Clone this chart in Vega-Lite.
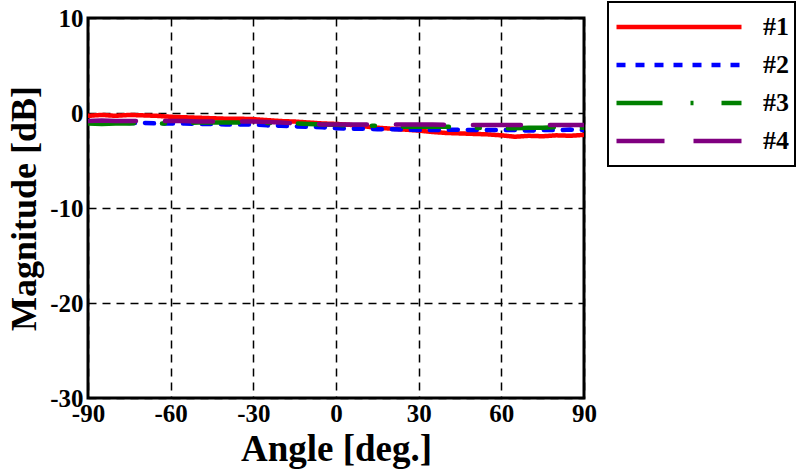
{
  "$schema": "https://vega.github.io/schema/vega-lite/v6.json",
  "width": 496,
  "height": 380,
  "autosize": "none",
  "padding": {"left": 88, "top": 18, "right": 213, "bottom": 74},
  "background": "white",
  "config": {
    "view": {"stroke": "black", "strokeWidth": 3},
    "font": "Liberation Serif",
    "legend": {"strokeWidth": 2},
    "locale": {"number": {"decimal": ".", "thousands": ",", "grouping": [3], "currency": ["$", ""], "minus": "-"}}
  },
  "data": {
    "values": [
      {"a": -90, "s": "#1", "v": -0.3}, {"a": -85, "s": "#1", "v": -0.2}, {"a": -80, "s": "#1", "v": -0.3}, {"a": -75, "s": "#1", "v": -0.2},
      {"a": -70, "s": "#1", "v": -0.25}, {"a": -65, "s": "#1", "v": -0.3}, {"a": -60, "s": "#1", "v": -0.4}, {"a": -55, "s": "#1", "v": -0.45},
      {"a": -50, "s": "#1", "v": -0.5}, {"a": -45, "s": "#1", "v": -0.55}, {"a": -40, "s": "#1", "v": -0.6}, {"a": -35, "s": "#1", "v": -0.6},
      {"a": -30, "s": "#1", "v": -0.65}, {"a": -25, "s": "#1", "v": -0.75}, {"a": -20, "s": "#1", "v": -0.85}, {"a": -15, "s": "#1", "v": -0.9},
      {"a": -10, "s": "#1", "v": -1.0}, {"a": -5, "s": "#1", "v": -1.1}, {"a": 0, "s": "#1", "v": -1.15}, {"a": 5, "s": "#1", "v": -1.25},
      {"a": 10, "s": "#1", "v": -1.4}, {"a": 15, "s": "#1", "v": -1.55}, {"a": 20, "s": "#1", "v": -1.65}, {"a": 25, "s": "#1", "v": -1.75},
      {"a": 30, "s": "#1", "v": -1.85}, {"a": 35, "s": "#1", "v": -2.0}, {"a": 40, "s": "#1", "v": -2.1}, {"a": 45, "s": "#1", "v": -2.15},
      {"a": 50, "s": "#1", "v": -2.2}, {"a": 55, "s": "#1", "v": -2.25}, {"a": 60, "s": "#1", "v": -2.35}, {"a": 65, "s": "#1", "v": -2.5},
      {"a": 70, "s": "#1", "v": -2.4}, {"a": 75, "s": "#1", "v": -2.45}, {"a": 80, "s": "#1", "v": -2.35}, {"a": 85, "s": "#1", "v": -2.4},
      {"a": 90, "s": "#1", "v": -2.3},
      {"a": -90, "s": "#2", "v": -1.0}, {"a": -85, "s": "#2", "v": -0.95}, {"a": -80, "s": "#2", "v": -1.0}, {"a": -75, "s": "#2", "v": -1.05},
      {"a": -70, "s": "#2", "v": -1.05}, {"a": -65, "s": "#2", "v": -1.1}, {"a": -60, "s": "#2", "v": -1.1}, {"a": -55, "s": "#2", "v": -1.1},
      {"a": -50, "s": "#2", "v": -1.15}, {"a": -45, "s": "#2", "v": -1.15}, {"a": -40, "s": "#2", "v": -1.2}, {"a": -35, "s": "#2", "v": -1.2},
      {"a": -30, "s": "#2", "v": -1.2}, {"a": -25, "s": "#2", "v": -1.3}, {"a": -20, "s": "#2", "v": -1.35}, {"a": -15, "s": "#2", "v": -1.4},
      {"a": -10, "s": "#2", "v": -1.45}, {"a": -5, "s": "#2", "v": -1.5}, {"a": 0, "s": "#2", "v": -1.6}, {"a": 5, "s": "#2", "v": -1.65},
      {"a": 10, "s": "#2", "v": -1.65}, {"a": 15, "s": "#2", "v": -1.7}, {"a": 20, "s": "#2", "v": -1.7}, {"a": 25, "s": "#2", "v": -1.75},
      {"a": 30, "s": "#2", "v": -1.8}, {"a": 35, "s": "#2", "v": -1.8}, {"a": 40, "s": "#2", "v": -1.75}, {"a": 45, "s": "#2", "v": -1.75},
      {"a": 50, "s": "#2", "v": -1.8}, {"a": 55, "s": "#2", "v": -1.8}, {"a": 60, "s": "#2", "v": -1.8}, {"a": 65, "s": "#2", "v": -1.8},
      {"a": 70, "s": "#2", "v": -1.85}, {"a": 75, "s": "#2", "v": -1.8}, {"a": 80, "s": "#2", "v": -1.8}, {"a": 85, "s": "#2", "v": -1.75},
      {"a": 90, "s": "#2", "v": -1.8},
      {"a": -90, "s": "#3", "v": -1.1}, {"a": -85, "s": "#3", "v": -1.15}, {"a": -80, "s": "#3", "v": -1.1}, {"a": -75, "s": "#3", "v": -1.1},
      {"a": -70, "s": "#3", "v": -1.05}, {"a": -65, "s": "#3", "v": -1.1}, {"a": -60, "s": "#3", "v": -1.1}, {"a": -55, "s": "#3", "v": -1.05},
      {"a": -50, "s": "#3", "v": -1.0}, {"a": -45, "s": "#3", "v": -1.0}, {"a": -40, "s": "#3", "v": -1.0}, {"a": -35, "s": "#3", "v": -1.0},
      {"a": -30, "s": "#3", "v": -1.0}, {"a": -25, "s": "#3", "v": -1.05}, {"a": -20, "s": "#3", "v": -1.1}, {"a": -15, "s": "#3", "v": -1.1},
      {"a": -10, "s": "#3", "v": -1.15}, {"a": -5, "s": "#3", "v": -1.2}, {"a": 0, "s": "#3", "v": -1.25}, {"a": 5, "s": "#3", "v": -1.3},
      {"a": 10, "s": "#3", "v": -1.35}, {"a": 15, "s": "#3", "v": -1.35}, {"a": 20, "s": "#3", "v": -1.4}, {"a": 25, "s": "#3", "v": -1.45},
      {"a": 30, "s": "#3", "v": -1.45}, {"a": 35, "s": "#3", "v": -1.45}, {"a": 40, "s": "#3", "v": -1.45}, {"a": 45, "s": "#3", "v": -1.5},
      {"a": 50, "s": "#3", "v": -1.55}, {"a": 55, "s": "#3", "v": -1.6}, {"a": 60, "s": "#3", "v": -1.6}, {"a": 65, "s": "#3", "v": -1.6},
      {"a": 70, "s": "#3", "v": -1.55}, {"a": 75, "s": "#3", "v": -1.55}, {"a": 80, "s": "#3", "v": -1.5}, {"a": 85, "s": "#3", "v": -1.55},
      {"a": 90, "s": "#3", "v": -1.55},
      {"a": -90, "s": "#4", "v": -0.85}, {"a": -85, "s": "#4", "v": -0.8}, {"a": -80, "s": "#4", "v": -0.85}, {"a": -75, "s": "#4", "v": -0.85},
      {"a": -70, "s": "#4", "v": -0.85}, {"a": -65, "s": "#4", "v": -0.85}, {"a": -60, "s": "#4", "v": -0.85}, {"a": -55, "s": "#4", "v": -0.85},
      {"a": -50, "s": "#4", "v": -0.9}, {"a": -45, "s": "#4", "v": -0.9}, {"a": -40, "s": "#4", "v": -0.9}, {"a": -35, "s": "#4", "v": -0.9},
      {"a": -30, "s": "#4", "v": -0.9}, {"a": -25, "s": "#4", "v": -0.95}, {"a": -20, "s": "#4", "v": -1.0}, {"a": -15, "s": "#4", "v": -1.1},
      {"a": -10, "s": "#4", "v": -1.15}, {"a": -5, "s": "#4", "v": -1.2}, {"a": 0, "s": "#4", "v": -1.2}, {"a": 5, "s": "#4", "v": -1.2},
      {"a": 10, "s": "#4", "v": -1.2}, {"a": 15, "s": "#4", "v": -1.2}, {"a": 20, "s": "#4", "v": -1.2}, {"a": 25, "s": "#4", "v": -1.2},
      {"a": 30, "s": "#4", "v": -1.2}, {"a": 35, "s": "#4", "v": -1.2}, {"a": 40, "s": "#4", "v": -1.25}, {"a": 45, "s": "#4", "v": -1.25},
      {"a": 50, "s": "#4", "v": -1.25}, {"a": 55, "s": "#4", "v": -1.25}, {"a": 60, "s": "#4", "v": -1.25}, {"a": 65, "s": "#4", "v": -1.25},
      {"a": 70, "s": "#4", "v": -1.25}, {"a": 75, "s": "#4", "v": -1.25}, {"a": 80, "s": "#4", "v": -1.25}, {"a": 85, "s": "#4", "v": -1.25},
      {"a": 90, "s": "#4", "v": -1.25}
    ]
  },
  "mark": {"type": "line", "strokeWidth": 4.5, "strokeCap": "round", "clip": true},
  "encoding": {
    "x": {
      "field": "a", "type": "quantitative",
      "scale": {"domain": [-90, 90], "nice": false, "zero": false},
      "axis": {
        "title": "Angle [deg.]",
        "values": [-90, -60, -30, 0, 30, 60, 90],
        "domain": false, "ticks": false,
        "grid": true, "gridColor": "black", "gridDash": [8, 6], "gridWidth": 1.5, "gridOpacity": 1,
        "labelFont": "Liberation Serif", "labelFontWeight": "bold", "labelFontSize": 25, "labelColor": "black",
        "labelPadding": 3, "labelFlush": false,
        "titleFont": "Liberation Serif", "titleFontWeight": "bold", "titleFontSize": 37, "titleColor": "black",
        "titlePadding": 5
      }
    },
    "y": {
      "field": "v", "type": "quantitative",
      "scale": {"domain": [-30, 10], "nice": false, "zero": false},
      "axis": {
        "title": "Magnitude [dB]",
        "values": [-30, -20, -10, 0, 10],
        "domain": false, "ticks": false,
        "grid": true, "gridColor": "black", "gridDash": [8, 6], "gridWidth": 1.5, "gridOpacity": 1,
        "labelFont": "Liberation Serif", "labelFontWeight": "bold", "labelFontSize": 25, "labelColor": "black",
        "labelPadding": 5, "labelFlush": false,
        "titleFont": "Liberation Serif", "titleFontWeight": "bold", "titleFontSize": 36, "titleColor": "black",
        "titlePadding": 6
      }
    },
    "color": {
      "field": "s", "type": "nominal",
      "scale": {"domain": ["#1", "#2", "#3", "#4"], "range": ["#ff0000", "#0000ff", "#008000", "#800080"]},
      "legend": {
        "title": null,
        "orient": "none",
        "legendX": 520,
        "legendY": -16,
        "symbolType": "stroke",
        "symbolSize": 15625,
        "symbolStrokeWidth": 4.5,
        "labelFont": "Liberation Serif", "labelFontWeight": "bold", "labelFontSize": 26, "labelColor": "black",
        "labelOffset": 19,
        "clipHeight": 38,
        "rowPadding": 0,
        "padding": 6,
        "strokeColor": "black",
        "fillColor": "white"
      }
    },
    "strokeDash": {
      "field": "s", "type": "nominal",
      "scale": {"domain": ["#1", "#2", "#3", "#4"], "range": [[1, 0], [9, 10], [46, 28, 3, 28], [48, 29]]}
    }
  }
}
